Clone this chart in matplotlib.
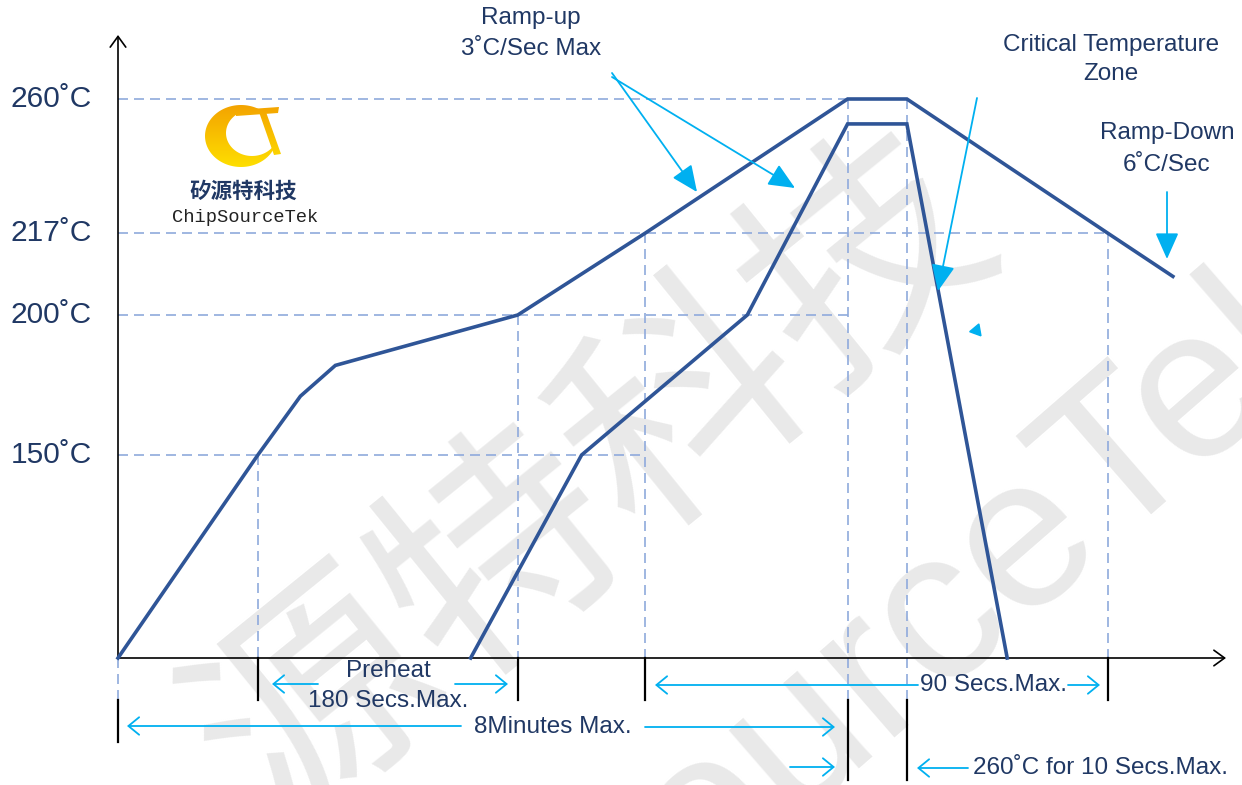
import numpy as np
import matplotlib.pyplot as plt
from matplotlib.patches import Polygon
from matplotlib.colors import LinearSegmentedColormap

plt.rcParams['font.family'] = ['Liberation Sans', 'DejaVu Sans']

W, H = 1242, 785
X0 = 118          # pixel column of the time origin
PX_PER_S = 1.52   # schematic horizontal scale

# y-axis temperature levels
levels = [150, 200, 217, 260]
level_labels = ['150˚C', '200˚C', '217˚C', '260˚C']
level_ends = [347, 480, 651, 480]      # time where each dashed guide stops

# outer profile
outer_t = [0, 92, 120, 143, 263, 347, 480, 519, 651, 694]
outer_temp = [0, 150, 171, 182, 200, 217, 260, 260, 217, 208]

# inner profile
inner_t = [232, 305, 414, 480, 519, 585]
inner_temp = [0, 150, 200, 252, 252, 0]

# vertical guides (time, temperature they drop from)
vguide_t = [92, 263, 347, 480, 519, 651]
vguide_temp = [150, 200, 217, 260, 260, 217]

# schematic temperature axis: temperature -> pixels from bottom
knot_temp = [-100, 0, 150, 200, 217, 260, 400]
knot_px = [-8, 127, 330, 470, 552, 686, 1122]

NAVY = '#203864'
BLUE = '#2f5597'
CYAN = '#00b0f0'
DASH = '#8faadc'
WM = '#e9e9e9'


def fwd(v):
    return np.interp(v, knot_temp, knot_px)


def inv(p):
    return np.interp(p, knot_px, knot_temp)


fig = plt.figure(figsize=(W / 100, H / 100), dpi=100)
ax = fig.add_axes([0, 0, 1, 1])
ax.set_yscale('function', functions=(fwd, inv))
ax.set_xlim(-X0 / PX_PER_S, (W - X0) / PX_PER_S)
ax.set_ylim(inv(0), inv(H))
ax.axis('off')


def to_data(x, y):
    return ((x - X0) / PX_PER_S, float(inv(H - y)))


def label(x, y, s, ha='center', va='center', size=17.5, **kw):
    ax.text(*to_data(x, y), s, ha=ha, va=va, fontsize=size, color=NAVY, zorder=6, **kw)


def arrow(x1, y1, x2, y2, filled=False):
    if filled:
        props = dict(arrowstyle='-|>,head_length=0.9,head_width=0.4', mutation_scale=18)
    else:
        props = dict(arrowstyle='->,head_length=0.55,head_width=0.45', mutation_scale=14)
    ax.annotate('', xy=to_data(x2, y2), xytext=to_data(x1, y1), zorder=5,
                arrowprops=dict(color=CYAN, lw=1.3, shrinkA=0, shrinkB=0, **props))


# watermark
ax.text(259 / W, 1 - 1281 / H, 'ChipSourceTek', transform=ax.transAxes, rotation=41,
        rotation_mode='anchor', ha='left', va='baseline', fontsize=155, color=WM, zorder=0)
ax.text(595 / W, 1 - 485 / H, '源特科技', transform=ax.transAxes, rotation=39,
        rotation_mode='anchor', ha='center', va='center', fontsize=170, color=WM, zorder=0,
        family=['Noto Sans CJK SC', 'DejaVu Sans'])

# dashed guides
dash = dict(color=DASH, lw=1.2, dashes=(6, 3.6), zorder=1)
for lv, te in zip(levels, level_ends):
    ax.plot([0, te], [lv, lv], **dash)
for t, tp in zip(vguide_t, vguide_temp):
    ax.plot([t, t], [tp, 0], **dash)
y700 = to_data(0, 700)[1]
for t in [0, 480, 519]:
    ax.plot([t, t], [0, y700], **dash)

# black time markers
for t in [92, 263, 347, 651]:
    ax.plot([t, t], [0, y700], color='black', lw=1.6, zorder=2)
for t in [480, 519]:
    ax.plot([t, t], [y700, to_data(0, 780)[1]], color='black', lw=1.6, zorder=2)
ax.plot([0, 0], [y700, to_data(0, 742)[1]], color='black', lw=1.6, zorder=2)

# axes
axis_props = dict(arrowstyle='->,head_length=0.55,head_width=0.4', mutation_scale=14,
                  color='black', lw=1.2, shrinkA=0, shrinkB=0)
ax.annotate('', xy=to_data(118, 35), xytext=(0, 0), arrowprops=axis_props, zorder=2)
ax.annotate('', xy=to_data(1226, 658), xytext=(0, 0), arrowprops=axis_props, zorder=2)

# profiles
ax.plot(outer_t, outer_temp, color=BLUE, lw=2.6, zorder=3, solid_joinstyle='miter')
ax.plot(inner_t, inner_temp, color=BLUE, lw=2.6, zorder=3, solid_joinstyle='miter')

# y labels
for lv, lab in zip(levels, level_labels):
    ax.text(-26 / PX_PER_S, lv, lab, ha='right', va='center', fontsize=21.5, color=NAVY)

# annotations
label(531, 18, 'Ramp-up')
label(531, 49, '3˚C/Sec Max')
arrow(612, 73, 697, 192, filled=True)
arrow(612, 77, 795, 188, filled=True)

label(1111, 45, 'Critical Temperature')
label(1111, 74, 'Zone')
arrow(977, 98, 938, 291, filled=True)
ax.plot(*to_data(976, 330), marker=(3, 0, -20), ms=10, color=CYAN, zorder=5)

label(1167, 133, 'Ramp-Down')
label(1167, 165, '6˚C/Sec')
arrow(1167, 192, 1167, 259, filled=True)

label(388, 671, 'Preheat')
label(388, 701, '180 Secs.Max.')
arrow(318, 684, 272, 684)
arrow(455, 684, 508, 684)

label(553, 727, '8Minutes Max.')
arrow(461, 726, 127, 726)
arrow(645, 727, 835, 727)

label(993, 685, '90 Secs.Max.')
arrow(918, 685, 655, 685)
arrow(1068, 685, 1100, 685)

label(973, 768, '260˚C for 10 Secs.Max.', ha='left')
arrow(790, 767, 835, 767)
arrow(968, 768, 917, 768)

# logo
lax = fig.add_axes([195 / W, 1 - 175 / H, 95 / W, 80 / H])
lax.axis('off')
th = np.radians(np.linspace(-55, -335, 80))
rx = 36 - 6 * np.abs(np.cos((th + np.pi) / 1.0)) * 0
outer = np.c_[241 + 36 * np.cos(th), 136 + 31 * np.sin(th)]
inner = np.c_[252 + 26 * np.cos(th[::-1]), 133 + 23 * np.sin(th[::-1])]
shapes = [np.vstack([outer, inner]),
          np.array([[236, 110], [279, 107], [278, 113], [236, 116]]),
          np.array([[259, 112], [266, 112], [281, 154], [274, 155]])]
grad = np.linspace(0, 1, 100)[:, None]
gold = LinearSegmentedColormap.from_list('gold', ['#f29a00', '#ffe600'])
for pts in shapes:
    poly = Polygon(pts, closed=True, facecolor='none', edgecolor='none')
    lax.add_patch(poly)
    im = lax.imshow(grad, extent=(195, 290, 175, 95), cmap=gold, aspect='auto', zorder=1)
    im.set_clip_path(poly)
lax.set_xlim(195, 290)
lax.set_ylim(175, 95)

label(243, 191, '矽源特科技', size=15.5, weight='bold', family=['Noto Sans CJK SC', 'DejaVu Sans'])
ax.text(*to_data(245, 218), 'ChipSourceTek', ha='center', va='center', fontsize=13.5,
        color='#222222', family=['Liberation Mono', 'DejaVu Sans Mono'])

fig.savefig('out.png', dpi=100)
